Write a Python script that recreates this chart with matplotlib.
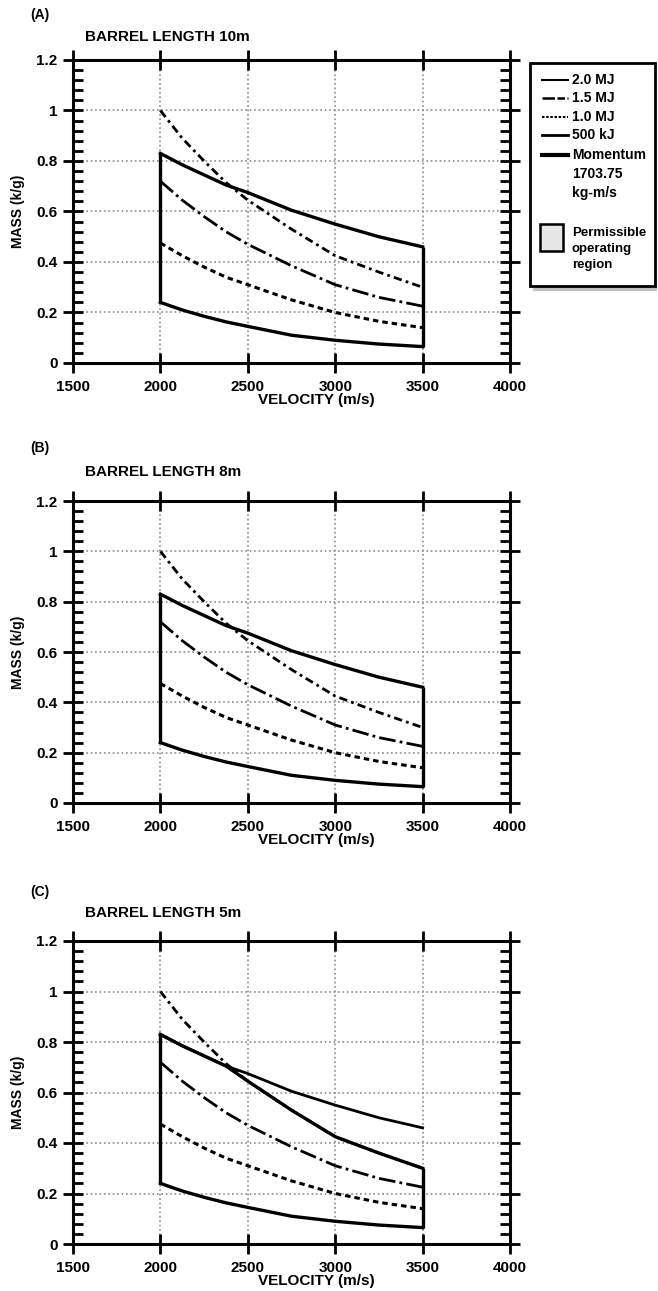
import numpy as np
import matplotlib.pyplot as plt
from matplotlib.patches import Rectangle

plt.rcParams['font.family'] = ['Liberation Sans', 'DejaVu Sans']
plt.rcParams['font.weight'] = 'bold'
plt.rcParams['hatch.color'] = '0.35'
plt.rcParams['hatch.linewidth'] = 1.0

# values (mass in kg vs velocity in m/s)
velocity = [2000, 2125, 2250, 2375, 2500, 2750, 3000, 3250, 3500]
mj_2_0 = [1.0, 0.89, 0.80, 0.715, 0.645, 0.53, 0.425, 0.36, 0.30]
mj_1_5 = [0.72, 0.645, 0.58, 0.52, 0.47, 0.385, 0.31, 0.26, 0.225]
mj_1_0 = [0.475, 0.425, 0.38, 0.34, 0.31, 0.25, 0.20, 0.165, 0.14]
kj_500 = [0.24, 0.21, 0.185, 0.163, 0.145, 0.11, 0.09, 0.075, 0.065]
momentum = [0.83, 0.785, 0.745, 0.705, 0.675, 0.605, 0.55, 0.50, 0.46]

panels = ['(A)', '(B)', '(C)']
titles = ['BARREL LENGTH 10m', 'BARREL LENGTH 8m', 'BARREL LENGTH 5m']
x_ticks = [1500, 2000, 2500, 3000, 3500, 4000]
y_ticks = [0, 0.2, 0.4, 0.6, 0.8, 1.0, 1.2]
y_labels = ['0', '0.2', '0.4', '0.6', '0.8', '1', '1.2']
legend_names = ['2.0 MJ', '1.5 MJ', '1.0 MJ', '500 kJ', 'Momentum\n1703.75\nkg-m/s']

ls_20 = (0, (3, 1.5, 1, 1.5))
ls_15 = (0, (6, 1.5, 1, 1.5))
ls_10 = (0, (1.8, 1.3))

W, H = 658, 1291
fig = plt.figure(figsize=(W/100, H/100), dpi=100)

# axes boxes in pixels: left, top, right, bottom
boxes = [(73, 60, 510, 363), (73, 501, 510, 803), (73, 941, 510, 1244)]
label_y = [15, 448, 892]
title_y = [37, 472, 913]

v = np.array(velocity)
for i, (l, t, r, b) in enumerate(boxes):
    ax = fig.add_axes((l/W, 1 - b/H, (r - l)/W, (b - t)/H))
    ax.set_xlim(1500, 4000)
    ax.set_ylim(0, 1.2)

    ax.plot(v, mj_2_0, color='black', lw=2, linestyle=ls_20)
    ax.plot(v, mj_1_5, color='black', lw=2, linestyle=ls_15)
    ax.plot(v, mj_1_0, color='black', lw=2.2, linestyle=ls_10)

    if i < 2:
        upper = np.array(momentum)
    else:
        upper = np.minimum(momentum, mj_2_0)
        ax.plot(v, momentum, color='black', lw=2)
    ax.plot(v, upper, color='black', lw=2.4)
    ax.plot(v, kj_500, color='black', lw=2.4)
    ax.vlines([v[0], v[-1]], [kj_500[0], kj_500[-1]], [upper[0], upper[-1]],
              color='black', lw=2.4)

    ax.set_xticks(x_ticks)
    ax.set_yticks(y_ticks)
    ax.set_yticklabels(y_labels)
    ax.set_yticks(np.arange(0, 1.21, 0.04), minor=True)
    ax.tick_params(axis='x', which='major', direction='inout', length=15, width=2,
                   top=True, labelsize=11, pad=5)
    ax.tick_params(axis='y', which='major', direction='inout', length=14, width=2,
                   right=True, labelsize=11, pad=4)
    ax.tick_params(axis='y', which='minor', direction='in', length=7.5, width=2,
                   right=True)
    for s in ax.spines.values():
        s.set_linewidth(2.2)
    ax.grid(True, which='major', linestyle=':', color='0.55', lw=1.2)
    ax.set_axisbelow(True)

    ax.set_xlabel('VELOCITY (m/s)', fontsize=11, fontweight='bold')
    ax.xaxis.set_label_coords(0.556, -0.1)
    ax.set_ylabel('MASS (k/g)', fontsize=10, fontweight='bold')
    ax.yaxis.set_label_coords(-0.11, 0.5)

    fig.text(30/W, 1 - label_y[i]/H, panels[i], fontsize=10, va='center')
    fig.text(85/W, 1 - title_y[i]/H, titles[i], fontsize=11, va='center')

# legend box drawn by hand, in pixel units inside its own axes
lg = fig.add_axes((529/W, 1 - 293/H, 129/W, 231/H))
lg.set_xlim(0, 129)
lg.set_ylim(232, 0)
lg.axis('off')
lg.add_patch(Rectangle((4, 222), 124, 8, facecolor='0.75', edgecolor='none',
                       hatch='....', clip_on=False))
lg.add_patch(Rectangle((1, 1), 125, 224, facecolor='white', edgecolor='black', lw=2))
styles = [dict(lw=1.5), dict(lw=1.8, linestyle=(0, (5, 1, 3, 1))),
          dict(lw=1.5, linestyle=(0, (1.2, 0.8))), dict(lw=2), dict(lw=3)]
rows = [18, 36, 55, 73, 93]
for st, name, yy in zip(styles, legend_names, rows):
    lg.plot([13, 39], [yy, yy], color='black', **st)
    lg.text(43, yy, name, fontsize=10, va='top' if '\n' in name else 'center',
            linespacing=1.45)
lg.texts[-1].set_y(rows[-1] - 7)
lg.add_patch(Rectangle((11, 163), 23, 27, facecolor='0.9', edgecolor='black', lw=1.8))
lg.text(43, 166, 'Permissible\noperating\nregion', fontsize=9.5, va='top',
        linespacing=1.45)

fig.savefig('out.png', dpi=100)
